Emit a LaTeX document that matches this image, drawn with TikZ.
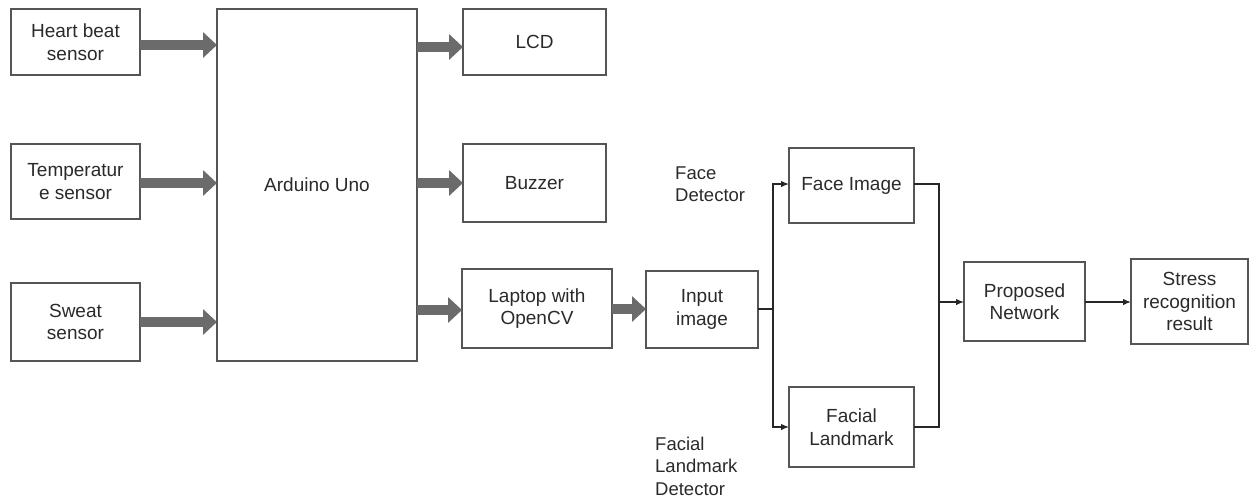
\documentclass[tikz,border=0pt]{standalone}
\usepackage{fontspec}
\setmainfont{Liberation Sans}
\usetikzlibrary{arrows.meta}
\definecolor{boxline}{HTML}{555555}
\definecolor{txt}{HTML}{2A2A2A}
\definecolor{fatarrow}{HTML}{6B6B6B}
\tikzset{
  box/.style={draw=boxline, line width=1.3pt, inner sep=0pt, outer sep=0pt, align=center,
    text=txt, font=\fontsize{19}{22.5}\selectfont},
  lbl/.style={inner sep=0pt, align=left, text=txt, font=\fontsize{18.5}{22.5}\selectfont},
  fat/.style={draw=fatarrow, line width=10pt, -{Triangle[width=25pt,length=14pt]}},
  thin/.style={draw=black!85, line width=1.3pt},
  thinarrow/.style={thin, -{Latex[length=8pt,width=6.5pt]}}
}
\begin{document}
\begin{tikzpicture}[x=1pt,y=-1pt]
\useasboundingbox (0,0) rectangle (1251,499);
\node[box, minimum width=129pt, minimum height=66pt] (heart) at (75.5,42) {Heart beat\\sensor};
\node[box, minimum width=129pt, minimum height=75pt] (temp) at (75.5,181.5) {Temperatur\\e sensor};
\node[box, minimum width=129pt, minimum height=78pt] (sweat) at (75.5,322) {Sweat\\sensor};
\node[box, minimum width=200pt, minimum height=352pt] (arduino) at (317,185) {Arduino Uno};
\node[box, minimum width=143pt, minimum height=66pt] (lcd) at (534.5,42) {LCD};
\node[box, minimum width=143pt, minimum height=78pt] (buzzer) at (534.5,183) {Buzzer};
\node[box, minimum width=150pt, minimum height=79pt] (laptop) at (537,308.5) {Laptop with\\OpenCV};
\node[box, minimum width=112pt, minimum height=77pt] (input) at (702,309.5) {Input\\image};
\node[box, minimum width=125pt, minimum height=75pt] (face) at (851.5,185.5) {Face Image};
\node[box, minimum width=125pt, minimum height=80pt] (landmark) at (851.5,427) {Facial\\Landmark};
\node[box, minimum width=121pt, minimum height=79pt] (proposed) at (1024.5,301.5) {Proposed\\Network};
\node[box, minimum width=117pt, minimum height=85pt] (stress) at (1189.5,301.5) {Stress\\recognition\\result};
\node[lbl, anchor=west] (facedet) at (675,184) {Face\\Detector};
\node[lbl, anchor=west] (lmdet) at (655,466) {Facial\\Landmark\\Detector};
% fat arrows
\draw[fat] (heart.east |- 0,45) -- (arduino.west |- 0,45);
\draw[fat] (temp.east |- 0,183) -- (arduino.west |- 0,183);
\draw[fat] (sweat.east) -- (arduino.west |- sweat.east);
\draw[fat] (arduino.east |- 0,47) -- (lcd.west |- 0,47);
\draw[fat] (arduino.east |- buzzer.west) -- (buzzer.west);
\draw[fat] (arduino.east |- 0,310) -- (laptop.west |- 0,310);
\draw[fat] (laptop.east |- 0,309) -- (input.west |- 0,309);
% thin connectors
\coordinate (split) at (773,309);
\coordinate (join) at (939,302);
\draw[thin] (input.east |- split) -- (split);
\draw[thinarrow] (split) |- (face.west |- 0,184);
\draw[thinarrow] (split) |- (landmark.west);
\draw[thin] (face.east |- 0,184) -| (join);
\draw[thin] (landmark.east) -| (join);
\draw[thinarrow] (join) -- (proposed.west |- join);
\draw[thinarrow] (proposed.east |- join) -- (stress.west |- join);
\end{tikzpicture}
\end{document}
